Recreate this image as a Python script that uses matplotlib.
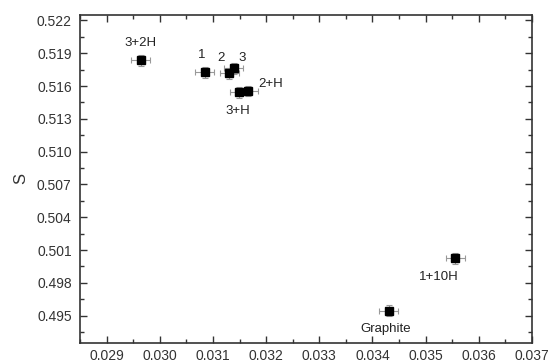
import matplotlib
matplotlib.use("Agg")
import matplotlib.pyplot as plt
from matplotlib.ticker import MultipleLocator, FormatStrFormatter

plt.rcParams['font.family'] = ['Liberation Sans', 'DejaVu Sans']

labels = ["3+2H", "1", "2", "3", "2+H", "3+H", "1+10H", "Graphite"]
x_vals = [0.02964, 0.030846, 0.031310, 0.031390, 0.031667, 0.031492, 0.035554, 0.034302]
y_vals = [0.51836, 0.51725, 0.51715, 0.51761, 0.51555, 0.51543, 0.50025, 0.49543]
x_err = [0.00018] * 8
y_err = [0.0005] * 8
# label offsets in points (dx, dy, ha, va)
label_offsets = [(0, 8, 'center', 'bottom'), (-2, 8, 'center', 'bottom'), (-6, 7, 'center', 'bottom'),
                 (6, 3, 'center', 'bottom'), (7, 1, 'left', 'bottom'), (-1, -9, 'center', 'top'),
                 (-12, -9, 'center', 'top'), (-2, -9, 'center', 'top')]

fig = plt.figure(figsize=(5.49, 3.63), dpi=100)
ax = fig.add_axes([80/549, 1-343/363, (532-80)/549, (343-15)/363])

ax.errorbar(x_vals, y_vals, xerr=x_err, yerr=y_err, fmt='s', color='black',
            ecolor='#999999', elinewidth=0.8, capsize=2.5, capthick=0.8,
            markersize=5.5, zorder=3)

for lab, x, y, (dx, dy, ha, va) in zip(labels, x_vals, y_vals, label_offsets):
    ax.annotate(lab, (x, y), xytext=(dx, dy), textcoords='offset points',
                ha=ha, va=va, fontsize=9.5, color='#222222')

ax.set_xlim(0.0285, 0.037)
ax.set_ylim(0.4925, 0.5225)
ax.xaxis.set_major_locator(MultipleLocator(0.001))
ax.xaxis.set_minor_locator(MultipleLocator(0.0005))
ax.yaxis.set_major_locator(MultipleLocator(0.003))
ax.yaxis.set_minor_locator(MultipleLocator(0.0015))
ax.xaxis.set_major_formatter(FormatStrFormatter('%.3f'))
ax.yaxis.set_major_formatter(FormatStrFormatter('%.3f'))
ax.tick_params(which='both', direction='in', top=True, right=True, labelsize=10,
               colors='#333333', labelcolor='#333333')
ax.tick_params(which='major', length=5, width=1)
ax.tick_params(axis='x', which='major', pad=4)
ax.tick_params(axis='y', which='major', pad=6)
ax.tick_params(which='minor', length=3, width=1)
ax.set_xticks([t for t in ax.get_xticks() if 0.0285 < t < 0.03705])
ax.set_ylabel('S', fontsize=12, color='#333333', labelpad=6)
for s in ax.spines.values():
    s.set_linewidth(1.2)
    s.set_color('#333333')

fig.savefig('out.png', dpi=100)
